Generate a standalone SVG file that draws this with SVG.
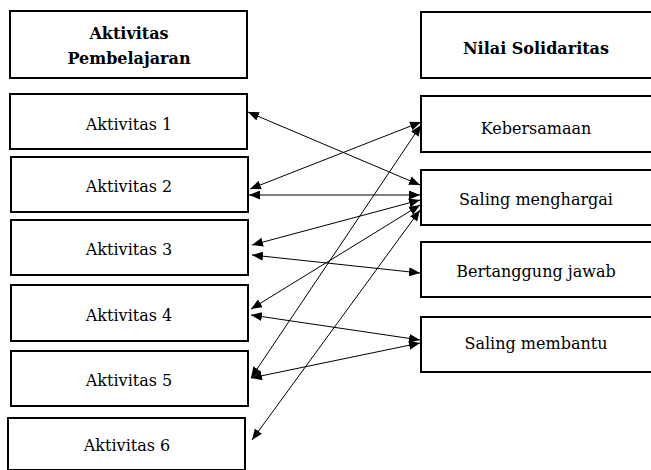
<svg xmlns="http://www.w3.org/2000/svg" width="651" height="470" viewBox="0 0 651 470">
<style>
.box{fill:#fff;stroke:#000;stroke-width:2}
.t{font-family:"DejaVu Serif","Liberation Serif",serif;font-size:16px;fill:#000;text-anchor:middle}
.h{font-weight:bold}
.c{stroke:#000;stroke-width:1;fill:none;marker-start:url(#ah);marker-end:url(#ah)}
</style>
<defs>
<marker id="ah" markerUnits="userSpaceOnUse" markerWidth="11" markerHeight="9" refX="11" refY="4.5" orient="auto-start-reverse">
<path d="M0,0 L11,4.5 L0,9 z" fill="#000"/>
</marker>
</defs>
<rect width="651" height="470" fill="#fff"/>
<g id="left-header"><rect class="box" x="10" y="11" width="237" height="67"/><text class="t h" x="129" y="39">Aktivitas</text><text class="t h" x="129" y="64">Pembelajaran</text></g>
<g id="aktivitas1"><rect class="box" x="10" y="94" width="237" height="55"/><text class="t" x="129" y="130">Aktivitas 1</text></g>
<g id="aktivitas2"><rect class="box" x="11" y="157" width="237" height="55"/><text class="t" x="129" y="192">Aktivitas 2</text></g>
<g id="aktivitas3"><rect class="box" x="11" y="220" width="237" height="55"/><text class="t" x="129" y="255">Aktivitas 3</text></g>
<g id="aktivitas4"><rect class="box" x="11" y="285" width="237" height="56"/><text class="t" x="129" y="321">Aktivitas 4</text></g>
<g id="aktivitas5"><rect class="box" x="11" y="351" width="237" height="55"/><text class="t" x="129" y="386">Aktivitas 5</text></g>
<g id="aktivitas6"><rect class="box" x="8" y="418" width="237" height="52"/><text class="t" x="127" y="451">Aktivitas 6</text></g>
<g id="right-header"><rect class="box" x="421" y="12" width="232" height="66"/><text class="t h" x="536" y="54">Nilai Solidaritas</text></g>
<g id="kebersamaan"><rect class="box" x="421" y="96" width="232" height="56"/><text class="t" x="536" y="134">Kebersamaan</text></g>
<g id="saling-menghargai"><rect class="box" x="421" y="170" width="232" height="55"/><text class="t" x="536" y="205">Saling menghargai</text></g>
<g id="bertanggung-jawab"><rect class="box" x="421" y="242" width="232" height="55"/><text class="t" x="536" y="277">Bertanggung jawab</text></g>
<g id="saling-membantu"><rect class="box" x="421" y="317" width="232" height="55"/><text class="t" x="536" y="349">Saling membantu</text></g>
<g id="connectors">
<line class="c" x1="248" y1="112" x2="420" y2="185"/>
<line class="c" x1="250" y1="189" x2="421" y2="122"/>
<line class="c" x1="249" y1="195" x2="420" y2="195"/>
<line class="c" x1="252" y1="245" x2="420" y2="200"/>
<line class="c" x1="252" y1="255" x2="420" y2="273"/>
<line class="c" x1="251" y1="309" x2="420" y2="205"/>
<line class="c" x1="251" y1="315" x2="420" y2="340"/>
<line class="c" x1="251" y1="378" x2="421" y2="125"/>
<line class="c" x1="251" y1="378" x2="420" y2="343"/>
<line class="c" x1="252" y1="440" x2="420" y2="210"/>
</g>
</svg>
